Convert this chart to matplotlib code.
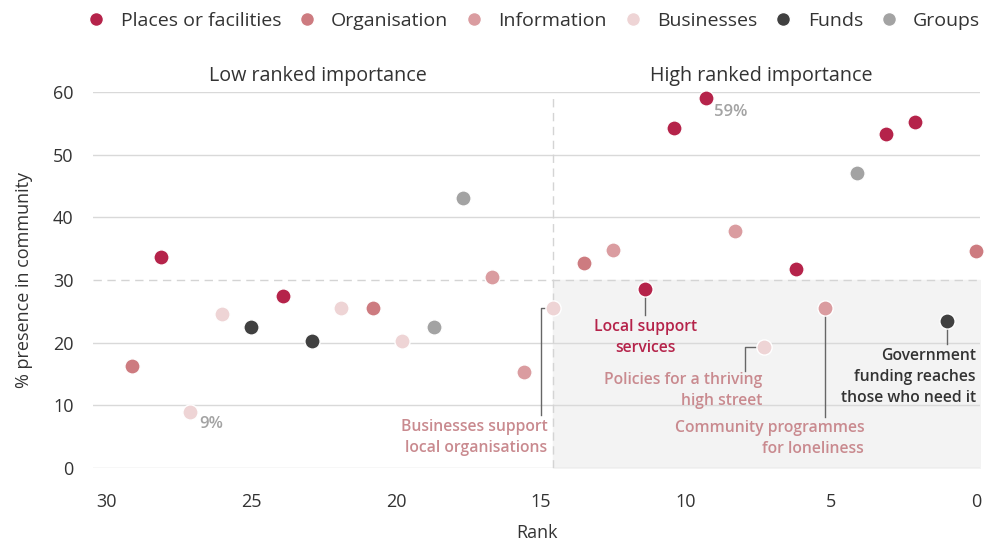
import numpy as np
import matplotlib.pyplot as plt
from matplotlib.lines import Line2D

plt.rcParams['font.family'] = ['Open Sans', 'DejaVu Sans']

# Datos
categorias = ["Places or facilities", "Organisation", "Information",
              "Businesses", "Funds", "Groups"]
colores = ["#b5234a", "#cd7b80", "#da9ca0", "#eed4d5", "#404040", "#a3a3a3"]

rank = [29.1, 28.1, 27.1, 26.0, 25.0, 23.9, 22.9, 21.9, 20.8, 19.8,
        18.7, 17.7, 16.7, 15.6, 14.6, 13.5, 12.5, 11.4, 10.4, 9.3,
        8.3, 7.3, 6.2, 5.2, 4.1, 3.1, 2.1, 1.0, 0.0]
presencia = [16.3, 33.7, 9.0, 24.6, 22.5, 27.4, 20.3, 25.5, 25.5, 20.3,
             22.5, 43.1, 30.5, 15.3, 25.5, 32.7, 34.8, 28.6, 54.3, 59.0,
             37.8, 19.3, 31.8, 25.5, 47.1, 53.3, 55.2, 23.5, 34.6]
categoria = ["Organisation", "Places or facilities", "Businesses", "Businesses",
             "Funds", "Places or facilities", "Funds", "Businesses",
             "Organisation", "Businesses", "Groups", "Groups", "Information",
             "Information", "Businesses", "Organisation", "Information",
             "Places or facilities", "Places or facilities",
             "Places or facilities", "Information", "Businesses",
             "Places or facilities", "Information", "Groups",
             "Places or facilities", "Places or facilities", "Funds",
             "Organisation"]

# Etiquetas: indice del punto, texto, color
etiquetas = [
    (14, "Businesses support\nlocal organisations", "#c98a8f"),
    (17, "Local support\nservices", "#b5234a"),
    (21, "Policies for a thriving\nhigh street", "#c98a8f"),
    (23, "Community programmes\nfor loneliness", "#c98a8f"),
    (27, "Government\nfunding reaches\nthose who need it", "#333333"),
]

fig = plt.figure(figsize=(9.91, 5.43), dpi=100)
ax = fig.add_axes([93 / 991, 75 / 543, 887 / 991, 376 / 543])

corte = rank[14]
x_izq, x_der = 30.45, -0.14
ax.set_xlim(x_izq, x_der)
ax.set_ylim(0, 60)

# Zona sombreada y lineas de referencia
ax.fill_between([corte, x_der], 0, 30, color="#f3f3f3", zorder=0)
for y in [0, 10, 20, 40, 50, 60]:
    ax.axhline(y, color="#d9d9d9", linewidth=1, zorder=1)
ax.axhline(30, color="#d4d4d4", linewidth=1, linestyle=(0, (6, 4)), zorder=1)
ax.axvline(corte, ymax=0.99, color="#d4d4d4", linewidth=1,
           linestyle=(0, (6, 4)), zorder=1)

# Puntos
for cat, col in zip(categorias, colores):
    idx = [i for i, c in enumerate(categoria) if c == cat]
    ax.scatter([rank[i] for i in idx], [presencia[i] for i in idx], s=120,
               color=col, edgecolor="white", linewidth=1, zorder=4,
               clip_on=False)

# Lineas guia y textos (eje x invertido: sumar rango = ir a la izquierda)
gris = "#666666"
px_x = 1 / 29.0
px_y = 1 / 6.27
fs = 11.3
ls = 1.42
for i, texto, col in etiquetas:
    x0, y0 = rank[i], presencia[i]
    if i == 14:
        ax.plot([x0, x0 + 12 * px_x, x0 + 12 * px_x],
                [y0, y0, y0 - 107 * px_y], color=gris, lw=1, zorder=3)
        ax.text(x0 + 5 * px_x, y0 - 111 * px_y, texto, ha="right", va="top",
                color=col, fontsize=fs, fontweight="semibold", linespacing=ls)
    elif i == 17:
        ax.plot([x0, x0], [y0, y0 - 26 * px_y], color=gris, lw=1, zorder=3)
        ax.text(x0, y0 - 30 * px_y, texto, ha="center", va="top",
                color=col, fontsize=fs, fontweight="semibold", linespacing=ls)
    elif i == 21:
        ax.plot([x0, x0 + 19 * px_x, x0 + 19 * px_x],
                [y0, y0, y0 - 24 * px_y], color=gris, lw=1, zorder=3)
        ax.text(x0 + 2 * px_x, y0 - 25 * px_y, texto, ha="right", va="top",
                color=col, fontsize=fs, fontweight="semibold", linespacing=ls)
    elif i == 23:
        ax.plot([x0, x0], [y0, y0 - 109 * px_y], color=gris, lw=1, zorder=3)
        ax.text(x0 - 39 * px_x, y0 - 112 * px_y, texto, ha="right", va="top",
                color=col, fontsize=fs, fontweight="semibold", linespacing=ls)
    else:
        ax.plot([x0, x0], [y0, y0 - 23 * px_y], color=gris, lw=1, zorder=3)
        ax.text(x0 - 29 * px_x, y0 - 27 * px_y, texto, ha="right", va="top",
                color=col, fontsize=fs, fontweight="semibold", linespacing=ls)

# Valores extremos
i_max = int(np.argmax(presencia))
i_min = int(np.argmin(presencia))
ax.text(rank[i_max] - 8 * px_x, presencia[i_max] - 2.2, f"{presencia[i_max]:.0f}%",
        color="#a3a3a3", fontsize=12, fontweight="semibold", va="center")
ax.text(rank[i_min] - 9 * px_x, presencia[i_min] - 2.0, f"{presencia[i_min]:.0f}%",
        color="#a3a3a3", fontsize=12, fontweight="semibold", va="center")

# Titulos de zona
ax.text(22.7, 62.6, "Low ranked importance", ha="center", va="center",
        fontsize=14.2, color="#333333")
ax.text(7.4, 62.6, "High ranked importance", ha="center", va="center",
        fontsize=14.2, color="#333333")

# Ejes
ax.set_xticks([30, 25, 20, 15, 10, 5, 0])
ax.set_yticks([0, 10, 20, 30, 40, 50, 60])
ax.tick_params(length=0, labelsize=13, labelcolor="#333333", pad=14)
ax.tick_params(axis="x", pad=18)
for s in ax.spines.values():
    s.set_visible(False)
ax.set_xlabel("Rank", fontsize=13, color="#333333", labelpad=9)
ax.set_ylabel("% presence in community", fontsize=13, color="#333333",
              labelpad=14)

# Leyenda
handles = [Line2D([], [], marker="o", linestyle="", markersize=10,
                  markerfacecolor=c, markeredgecolor="white", label=l)
           for l, c in zip(categorias, colores)]
fig.legend(handles=handles, loc="upper right", bbox_to_anchor=(0.997, 0.992),
           ncol=6, frameon=False, fontsize=14.0, handlelength=0.8,
           handletextpad=0.85, columnspacing=0.93, borderaxespad=0,
           labelcolor="#333333")

fig.savefig("out.png", dpi=100)
